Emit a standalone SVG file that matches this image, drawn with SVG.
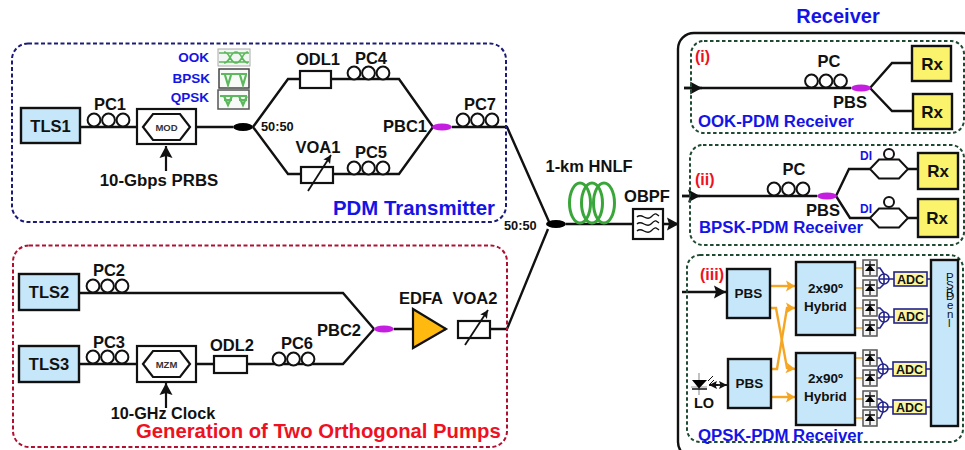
<svg xmlns="http://www.w3.org/2000/svg" width="965" height="450" viewBox="0 0 965 450">
<style>
text{font-family:"Liberation Sans",Arial,sans-serif;font-weight:700;fill:#111}
.m{text-anchor:middle}
.l{font-size:16.500px}
.s{font-size:13.500px}
.rxt{font-size:17px}
.rt{font-size:16.800px}
.eye{font-size:13.500px}
.ratio{font-size:12.800px}
.tag{font-size:16px}
.adct{font-size:12.500px}
.dsp{font-size:11.500px;font-weight:400}
.blue{fill:#1414e6}
.red{fill:#ee1122}
.ln{fill:none;stroke:#111;stroke-width:2.400;stroke-linejoin:miter}
.thin{fill:none;stroke:#111;stroke-width:1.800}
.box{fill:#c6e7f9;stroke:#111;stroke-width:2.400}
.wbox{fill:#fff;stroke:#111;stroke-width:2.200}
.pc{fill:#fff;stroke:#111;stroke-width:2}
.ysq{fill:#fbf36b;stroke:#111;stroke-width:2.400}
.pm{fill:#c41fe0}
.bk{fill:#000}
.or{fill:none;stroke:#f5a623;stroke-width:2.400}
.navy{fill:none;stroke:#22228c;stroke-width:1.600}
.adc{fill:#fdf6a0;stroke:#22228c;stroke-width:1.600}
.det{fill:#f4f4f4;stroke:#555;stroke-width:1.500}
.gr{fill:none;stroke:#3aa63a;stroke-width:3}
.eg{fill:none;stroke:#5cb85c;stroke-width:1.600}
.fr{fill:none;stroke:#1d4a30;stroke-width:2;stroke-dasharray:3.500 2.500}
</style>
<defs>
<marker id="ah" markerUnits="userSpaceOnUse" markerWidth="13" markerHeight="14" refX="12" refY="7" orient="auto"><path d="M0 0.500L12 7L0 13.500L2 7Z" fill="#111"/></marker>
<marker id="as" markerUnits="userSpaceOnUse" markerWidth="9" markerHeight="9" refX="8" refY="4.500" orient="auto"><path d="M0 0.500L8 4.500L0 8.500L1.500 4.500Z" fill="#111"/></marker>
<marker id="ao" markerUnits="userSpaceOnUse" markerWidth="10" markerHeight="12" refX="9" refY="6" orient="auto"><path d="M0 0.500L9 6L0 11.500L2 6Z" fill="#f5a623"/></marker>
<g id="pc3"><circle cx="0" cy="0" r="6.400" class="pc"/><circle cx="14.500" cy="0" r="6.400" class="pc"/><circle cx="29" cy="0" r="6.400" class="pc"/></g>
<g id="dd"><rect x="-7" y="-8" width="14" height="16" class="det"/><path d="M0 -7V7" stroke="#111" stroke-width="1.200"/><path d="M-5 3H5L0 -3Z" class="bk"/><path d="M-5 -3H5" stroke="#111" stroke-width="1.600"/></g>
<path id="di" d="M0 0L9 -9.500H29L38 0L29 9.500H9Z" class="pc"/>
</defs>

<g id="connectors">
<path class="ln" d="M80 127H233M253 127L288 79H399L433 127M253 127L288 174H399L433 127"/>
<path class="ln" d="M452 127H507L550 224"/>
<path class="ln" d="M548 229L507 329H490M446 329H394M374 329L343 293H79M374 329L343 364H79"/>
<path class="ln" d="M566 224H679" marker-end="url(#ah)"/>
<path class="ln" d="M684 88H851M870 88L892 63H913M870 88L892 111H913"/>
<path class="ln" d="M684 88H702" marker-end="url(#ah)"/>
<path class="ln" d="M682 196H817M836 196L849 169H870M908 169H918M836 196L850 218H870M908 218H918"/>
<path class="ln" d="M682 196H700" marker-end="url(#ah)"/>
<path class="ln" d="M682 292H726" marker-end="url(#ah)"/>
<path class="thin" d="M710 385H727" marker-end="url(#as)"/>
<path class="thin" d="M718 385H709" marker-end="url(#as)"/>
<path class="thin" d="M166 171V146" marker-end="url(#ah)" style="stroke-width:2.200"/>
<path class="thin" d="M166 408V383" marker-end="url(#ah)" style="stroke-width:2.200"/>
<path class="or" d="M771 286H795" marker-end="url(#ao)"/>
<path class="or" d="M771 308H776L787 368L795 369" marker-end="url(#ao)"/>
<path class="or" d="M771 369H777L787 308H795" marker-end="url(#ao)"/>
<path class="or" d="M771 397H795" marker-end="url(#ao)"/>
<path d="M855 268H863M855 288H863M855 308H863M855 328H863M855 358H863M855 378H863M855 399H863M855 418H863" stroke="#f5a623" stroke-width="1.600" fill="none"/>
<path class="navy" d="M877 268H880L884 274M877 288H880L884 284M889 279H894M927 279H931"/>
<path class="navy" d="M877 308H880L884 312M877 328H880L884 322M889 317H894M927 316H931"/>
<path class="navy" d="M877 358H880L883 364M877 378H880L883 374M888 369H893M926 369H931"/>
<path class="navy" d="M877 399H880L883 402M877 418H880L883 412M888 407H893M926 407H931"/>
</g>

<g id="pdm-transmitter"><rect x="12" y="43.500" width="494" height="178.500" rx="16" fill="none" stroke="#1c1c78" stroke-width="2" stroke-dasharray="4 2.500"/><text x="333" y="215" class="blue" style="font-size:20.400px">PDM Transmitter</text></g>
<g id="pump-generation"><rect x="13" y="245.500" width="494" height="201.500" rx="16" fill="none" stroke="#b01030" stroke-width="2" stroke-dasharray="4 2.500"/><text x="136" y="438" class="red" style="font-size:20.300px">Generation of Two Orthogonal Pumps</text></g>
<g id="receiver"><rect x="678" y="33" width="300" height="425" rx="16" fill="none" stroke="#111" stroke-width="2.400"/><text x="838" y="23" class="m blue" style="font-size:20px">Receiver</text></g>
<rect id="rx-i-frame" x="691" y="41" width="273" height="92" rx="13" class="fr"/>
<rect id="rx-ii-frame" x="690" y="145" width="274" height="100" rx="13" class="fr"/>
<rect id="rx-iii-frame" x="687" y="255" width="276" height="187" rx="13" class="fr"/>

<g id="tls1"><rect x="21" y="108" width="59" height="35" class="box"/><text x="50.500" y="131.500" class="m l">TLS1</text></g>
<g id="pc1"><use href="#pc3" x="94" y="120"/><text x="110" y="110" class="m l">PC1</text></g>
<g id="mod"><rect x="137" y="109" width="59" height="35" class="wbox"/><path d="M143 127L153 114H180L190 127L180 140H153Z" class="wbox"/><text x="166.500" y="131" class="m" style="font-size:9.500px;fill:#333">MOD</text></g>
<text x="159" y="186" class="m" style="font-size:16.800px">10-Gbps PRBS</text>
<g id="formats">
<text x="209" y="62" text-anchor="end" class="blue eye">OOK</text>
<text x="210" y="83" text-anchor="end" class="blue eye">BPSK</text>
<text x="209" y="102" text-anchor="end" class="blue eye">QPSK</text>
<rect x="218" y="49" width="32" height="17" fill="#f3f7f3" stroke="#aaa" stroke-width="1"/>
<path class="eg" d="M224 52C230 52 230 63 236 63C242 63 242 52 248 52M224 63C230 63 230 52 236 52C242 52 242 63 248 63M219 53H249M219 62H249"/>
<rect x="219" y="69" width="30" height="19" fill="#f7faf7" stroke="#444" stroke-width="1.500"/>
<path class="eg" style="stroke-width:2.200" d="M221 74H247M225 75L228 85L231 75M240 75L243 85L246 75"/>
<rect x="218" y="90" width="31" height="19" fill="#f7faf7" stroke="#555" stroke-width="1.500"/>
<path class="eg" style="stroke-width:2.200" d="M220 96H247M224 96L228 105L232 96M239 96L243 105L247 96M224 100H232M239 100H247"/>
</g>
<ellipse id="coupler1" cx="243" cy="127" rx="10" ry="4" class="bk"/>
<text x="261" y="131" class="ratio">50:50</text>
<g id="odl1"><rect x="300" y="71" width="31" height="17" class="wbox"/><text x="318" y="65" class="m l">ODL1</text></g>
<g id="pc4"><use href="#pc3" x="354" y="73"/><text x="371" y="64" class="m l">PC4</text></g>
<g id="voa1"><rect x="301" y="167" width="32" height="16" class="wbox"/><path class="thin" d="M308 191L331 155" marker-end="url(#as)"/><text x="318" y="153" class="m l">VOA1</text></g>
<g id="pc5"><use href="#pc3" x="354" y="168"/><text x="371" y="158" class="m l">PC5</text></g>
<g id="pbc1"><ellipse cx="442" cy="127" rx="10" ry="3.500" class="pm"/><text x="405" y="132" class="m l">PBC1</text></g>
<g id="pc7"><use href="#pc3" x="463" y="120"/><text x="480" y="110" class="m l">PC7</text></g>

<g id="tls2"><rect x="19" y="274" width="60" height="36" class="box"/><text x="49" y="297.500" class="m l">TLS2</text></g>
<g id="pc2"><use href="#pc3" x="93" y="286"/><text x="109" y="276" class="m l">PC2</text></g>
<g id="tls3"><rect x="19" y="346" width="60" height="36" class="box"/><text x="49" y="369.500" class="m l">TLS3</text></g>
<g id="pc3n"><use href="#pc3" x="93" y="357"/><text x="109" y="348" class="m l">PC3</text></g>
<g id="mzm"><rect x="137" y="346" width="59" height="36" class="wbox"/><path d="M143 364L153 351H180L190 364L180 377H153Z" class="wbox"/><text x="166.500" y="368" class="m" style="font-size:9.500px;fill:#333">MZM</text></g>
<text x="163" y="419" class="m" style="font-size:16.200px">10-GHz Clock</text>
<g id="odl2"><rect x="214" y="356" width="33" height="17" class="wbox"/><text x="232" y="351" class="m l">ODL2</text></g>
<g id="pc6"><use href="#pc3" x="279" y="359"/><text x="297" y="349" class="m l">PC6</text></g>
<g id="pbc2"><ellipse cx="384" cy="329" rx="10" ry="3.500" class="pm"/><text x="339" y="336" class="m l">PBC2</text></g>
<g id="edfa"><path d="M413 309V348L446 329Z" fill="#ffb90f" stroke="#111" stroke-width="2.200"/><text x="421" y="304" class="m l">EDFA</text></g>
<g id="voa2"><rect x="458" y="321" width="32" height="17" class="wbox"/><path class="thin" d="M465 345L488 310" marker-end="url(#as)"/><text x="475" y="304" class="m l">VOA2</text></g>

<ellipse id="coupler2" cx="556" cy="224" rx="10" ry="4" class="bk"/>
<text x="504" y="230" class="ratio">50:50</text>
<g id="hnlf"><ellipse cx="580" cy="203" rx="10.500" ry="20" class="gr"/><ellipse cx="592" cy="203" rx="10.500" ry="20" class="gr"/><ellipse cx="604" cy="203" rx="10.500" ry="20" class="gr"/><text x="589" y="172" class="m l">1-km HNLF</text></g>
<g id="obpf"><rect x="633" y="209" width="30" height="30" class="wbox"/><path class="thin" style="stroke-width:1.400" d="M637 217C642 212 646 222 651 217S656 214 659 216M637 224C642 219 646 229 651 224S656 221 659 223M637 231C642 226 646 236 651 231S656 228 659 230"/><text x="647" y="202" class="m l">OBPF</text></g>

<g id="rx-i"><text x="695" y="62" class="red tag">(i)</text><use href="#pc3" x="811.500" y="81"/><text x="829" y="67" class="m l">PC</text><ellipse cx="861" cy="88" rx="10" ry="3.500" class="pm"/><text x="850" y="108" class="m l">PBS</text><rect x="912" y="46" width="39" height="35" class="ysq"/><text x="932" y="69.500" class="m rxt">Rx</text><rect x="913" y="94" width="39" height="35" class="ysq"/><text x="932" y="117.500" class="m rxt">Rx</text><text x="698" y="127" class="blue rt">OOK-PDM Receiver</text></g>
<g id="rx-ii"><text x="695" y="185" class="red tag">(ii)</text><use href="#pc3" x="774" y="189"/><text x="794" y="175" class="m l">PC</text><ellipse cx="827" cy="196" rx="10" ry="3.500" class="pm"/><text x="823" y="216" class="m l">PBS</text><use href="#di" x="870" y="169"/><circle cx="889" cy="154" r="5" class="pc"/><use href="#di" x="870" y="218"/><circle cx="889" cy="202" r="5" class="pc"/><text x="866" y="160" class="m blue" style="font-size:12px">DI</text><text x="866" y="213" class="m blue" style="font-size:12px">DI</text><rect x="918" y="153" width="40" height="36" class="ysq"/><text x="938" y="177" class="m rxt">Rx</text><rect x="918" y="199" width="40" height="38" class="ysq"/><text x="937" y="224" class="m rxt">Rx</text><text x="699" y="233" class="blue rt">BPSK-PDM Receiver</text></g>
<g id="rx-iii"><text x="700" y="280" class="red tag">(iii)</text>
<rect x="727" y="269" width="43" height="49" class="box"/><text x="748.500" y="298" class="m s">PBS</text>
<rect x="728" y="359" width="43" height="49" class="box"/><text x="749.500" y="388" class="m s">PBS</text>
<rect x="796" y="262" width="59" height="73" class="box"/><text x="825.500" y="293" class="m s">2x90º</text><text x="825.500" y="311" class="m s">Hybrid</text>
<rect x="796" y="353" width="59" height="72" class="box"/><text x="825.500" y="383" class="m s">2x90º</text><text x="825.500" y="401" class="m s">Hybrid</text>
<path d="M699 373V395M691 387H707" stroke="#999" stroke-width="1.200"/><path d="M692 380H707L699 388.500Z" class="bk"/><path d="M692 389H707" stroke="#111" stroke-width="1.500"/><path class="thin" style="stroke-width:1" d="M708 381L713 376M709 385L714 380"/>
<text x="704" y="408" class="m" style="font-size:14.500px">LO</text>
<use href="#dd" x="870" y="268"/><use href="#dd" x="870" y="288"/><use href="#dd" x="870" y="308"/><use href="#dd" x="870" y="328"/><use href="#dd" x="870" y="358"/><use href="#dd" x="870" y="378"/><use href="#dd" x="870" y="399"/><use href="#dd" x="870" y="418"/>
<g class="navy"><circle cx="884" cy="279" r="5"/><path d="M879 279H889M884 274V284"/><circle cx="884" cy="317" r="5"/><path d="M879 317H889M884 312V322"/><circle cx="883" cy="369" r="5"/><path d="M878 369H888M883 364V374"/><circle cx="883" cy="407" r="5"/><path d="M878 407H888M883 402V412"/></g>
<rect x="894" y="272" width="33" height="14" class="adc"/><text x="910.500" y="283.500" class="m adct">ADC</text>
<rect x="894" y="309" width="33" height="14" class="adc"/><text x="910.500" y="320.500" class="m adct">ADC</text>
<rect x="893" y="362" width="33" height="14" class="adc"/><text x="909.500" y="373.500" class="m adct">ADC</text>
<rect x="893" y="400" width="33" height="14" class="adc"/><text x="909.500" y="411.500" class="m adct">ADC</text>
<rect x="931" y="260" width="27" height="166" class="box"/>
<text x="946 946 946 946 947 947 948" y="281 289 297 300 309 318 327" class="dsp">PSBDenl</text>
<text x="698" y="441" class="blue rt">QPSK-PDM Receiver</text></g>
</svg>
